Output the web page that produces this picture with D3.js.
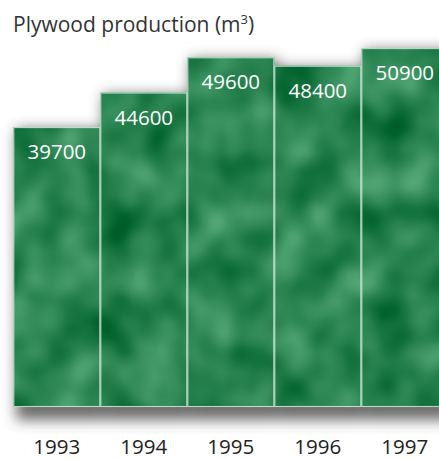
<!DOCTYPE html>
<html>
<head>
<meta charset="utf-8">
<script src="https://cdn.jsdelivr.net/npm/d3@7"></script>
<style>
  html, body { margin: 0; padding: 0; background: #ffffff; }
  svg { display: block; }
  text { font-family: "Open Sans", "Noto Sans", sans-serif; }
</style>
</head>
<body>
<svg id="chart" width="439" height="459"></svg>
<script>
// Plywood production per year, cubic metres
const years = ["1993", "1994", "1995", "1996", "1997"];
const production = [39700, 44600, 49600, 48400, 50900];

const W = 439, H = 459;
const baseY = 407;

const svg = d3.select("#chart");
const defs = svg.append("defs");

// soft drop shadow beneath the bar block
const shadow = defs.append("filter").attr("id", "shadow")
  .attr("x", "-20%").attr("y", "-20%").attr("width", "140%").attr("height", "140%");
shadow.append("feGaussianBlur").attr("in", "SourceGraphic").attr("stdDeviation", 7);

// mottled green texture for the bar fills
const mottle = defs.append("filter").attr("id", "mottle")
  .attr("filterUnits", "userSpaceOnUse")
  .attr("color-interpolation-filters", "sRGB")
  .attr("x", 0).attr("y", 0).attr("width", W).attr("height", H);
mottle.append("feTurbulence")
  .attr("type", "fractalNoise").attr("baseFrequency", "0.022 0.02")
  .attr("numOctaves", 2).attr("seed", 11).attr("result", "noise");
mottle.append("feColorMatrix").attr("in", "noise").attr("type", "matrix")
  .attr("values", [
    0.50, 0, 0, 0, -0.085,
    0.42, 0, 0, 0, 0.31,
    0.44, 0, 0, 0, 0.10,
    0, 0, 0, 0, 1
  ].join(" "))
  .attr("result", "tint");
mottle.append("feComposite").attr("in", "tint").attr("in2", "SourceGraphic").attr("operator", "in");

const x = d3.scaleBand().domain(years).range([13.3, 448.3]).padding(0);
const y = d3.scaleLinear().domain([0, 51000]).range([baseY, 47.4]);

const data = years.map((yr, i) => ({ year: yr, value: production[i] }));

// shadow layer
svg.append("g")
  .attr("filter", "url(#shadow)")
  .attr("opacity", 0.75)
  .selectAll("rect").data(data).join("rect")
  .attr("x", d => x(d.year) + 3)
  .attr("y", d => y(d.value) + 2)
  .attr("width", x.bandwidth())
  .attr("height", d => baseY - y(d.value) + 11)
  .attr("fill", "#3a3a3a");

// textured bars
svg.append("g")
  .attr("filter", "url(#mottle)")
  .selectAll("rect").data(data).join("rect")
  .attr("x", d => x(d.year))
  .attr("y", d => y(d.value))
  .attr("width", x.bandwidth())
  .attr("height", d => baseY - y(d.value))
  .attr("fill", "#000");

// light outlines around each bar
svg.append("g")
  .selectAll("rect").data(data).join("rect")
  .attr("x", d => x(d.year) + 0.5)
  .attr("y", d => y(d.value) + 0.5)
  .attr("width", x.bandwidth() - 1)
  .attr("height", d => baseY - y(d.value) - 1)
  .attr("fill", "none")
  .attr("stroke", "#d6ebdd")
  .attr("stroke-opacity", 0.85)
  .attr("stroke-width", 1.1);

// value labels inside the bars
svg.append("g")
  .selectAll("text").data(data).join("text")
  .attr("x", d => x(d.year) + x.bandwidth() / 2)
  .attr("y", d => y(d.value) + 32)
  .attr("text-anchor", "middle")
  .attr("font-size", 20.5)
  .attr("fill", "#ffffff")
  .text(d => d.value);

// year labels along the bottom
const xAxis = d3.axisBottom(x).tickSize(0).tickPadding(0);
const ax = svg.append("g").attr("transform", `translate(0, ${baseY})`).call(xAxis);
ax.select(".domain").remove();
ax.selectAll("text")
  .attr("dy", null)
  .attr("y", 47)
  .attr("font-size", 20.5)
  .attr("font-family", "'Open Sans', 'Noto Sans', sans-serif")
  .attr("fill", "#222");

// title
const title = svg.append("text")
  .attr("x", 13).attr("y", 32)
  .attr("font-size", 21)
  .attr("fill", "#333");
title.append("tspan").text("Plywood production (m");
title.append("tspan").attr("font-size", 13).attr("dy", -8).text("3");
title.append("tspan").attr("dy", 8).text(")");
</script>
</body>
</html>
